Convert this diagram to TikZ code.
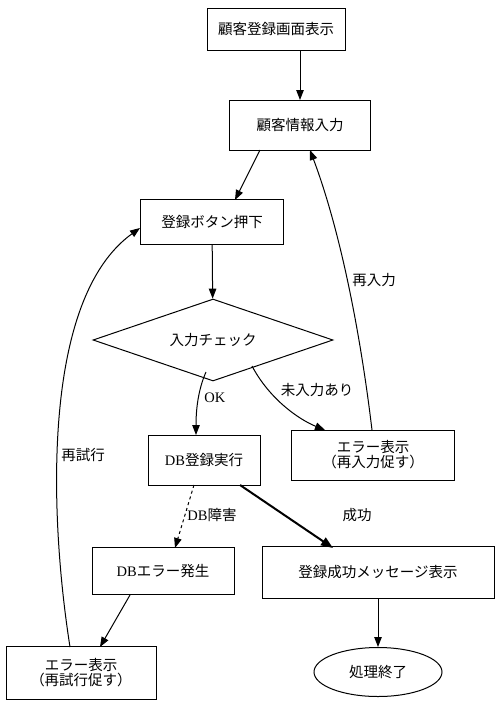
\documentclass[tikz,border=0pt]{standalone}
\usepackage{fontspec}
\setmainfont{Liberation Serif}
\newfontfamily\jp{Noto Sans CJK JP}
\usetikzlibrary{shapes.geometric,arrows.meta}
\begin{document}
\begin{tikzpicture}[x=1pt,y=-1pt,
  box/.style={draw,line width=1pt,minimum height=0pt,inner sep=0pt,font=\fontsize{14.5}{16}\selectfont,align=center},
  arr/.style={-{Triangle[length=10pt,width=7.5pt]},line width=1pt},
  lab/.style={font=\fontsize{14.5}{16}\selectfont}]
\useasboundingbox (0,0) rectangle (499,704);
\node[box,minimum width=138pt,minimum height=42pt] (n1) at (276,29) {\jp 顧客登録画面表示};
\node[box,minimum width=141pt,minimum height=50pt] (n2) at (300,125) {\jp 顧客情報入力};
\node[box,minimum width=143pt,minimum height=45pt] (n3) at (212,222) {\jp 登録ボタン押下};
\node[draw,line width=1pt,diamond,aspect=2.9,inner sep=0pt,minimum width=240pt,minimum height=82pt,font=\fontsize{14.5}{16}\selectfont] (n4) at (213,340) {\jp 入力チェック};
\node[box,minimum width=163pt,minimum height=50pt] (n5) at (373,455) {\jp エラー表示\\[-1pt]\jp （再入力促す）};
\node[box,minimum width=112pt,minimum height=50pt] (n6) at (204,460) {DB{\jp 登録実行}};
\node[box,minimum width=142pt,minimum height=47pt] (n7) at (163,571) {DB{\jp エラー発生}};
\node[box,minimum width=232pt,minimum height=52pt] (n8) at (378,572) {\jp 登録成功メッセージ表示};
\node[draw,line width=1pt,ellipse,inner sep=0pt,minimum width=128pt,minimum height=49pt,font=\fontsize{14.5}{16}\selectfont] (n9) at (378,672) {\jp 処理終了};
\node[box,minimum width=150pt,minimum height=53pt] (n10) at (81,673) {\jp エラー表示\\[-1pt]\jp （再試行促す）};

\coordinate (a1) at (300,50);
\coordinate (a2) at (300,100);
\draw[arr] (a1) -- (a2);
\draw[arr] (260,150) -- (235,200);
\draw[arr] (n3) -- (n4);
\draw[arr] (206,372) .. controls (198,390) and (196,410) .. (196,435) node[lab,pos=0.45,right=2pt] {OK};
\node[lab] (l5) at (317,390) {\jp 未入力あり};
\draw[arr] (252,366) .. controls (270,400) and (300,420) .. (325,430);
\draw[arr] (372,430) .. controls (360,330) and (340,230) .. (310,150);
\node[lab] (l2) at (374,280) {\jp 再入力};
\draw[arr,dashed] (194,485) -- (175,548);
\node[lab] (l7) at (212,515) {DB{\jp 障害}};
\draw[-{Triangle[length=12pt,width=9pt]},line width=2pt] (240,485) -- (333,548);
\node[lab] (l8) at (357,515) {\jp 成功};
\draw[arr] (n8) -- (n9);
\draw[arr] (130,595) -- (100,647);
\draw[arr] (70,647) .. controls (50,520) and (40,300) .. (140,228);
\node[lab] (l10) at (83,455) {\jp 再試行};
\end{tikzpicture}
\end{document}
